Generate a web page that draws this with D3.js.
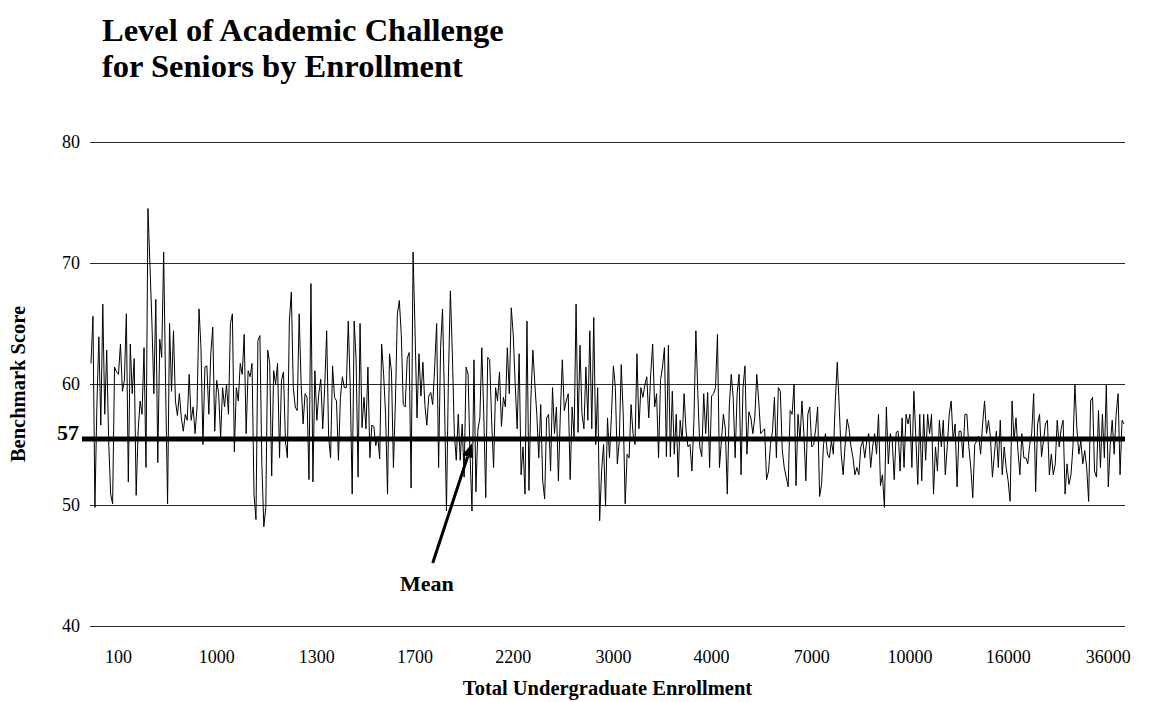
<!DOCTYPE html>
<meta charset="UTF-8">
<style>
	body { margin: 0; background: #fff; }
	svg { display: block; font-family: "Liberation Serif", "Times New Roman", serif; }
	.grid line { stroke: #2a2a2a; stroke-width: 1px; shape-rendering: crispEdges; }
	.tick-label { font-size: 18px; fill: #000; }
	.title { font-size: 32.5px; font-weight: bold; }
	.axis-title { font-size: 20.5px; font-weight: bold; }
	.score-line { fill: none; stroke: #000; stroke-width: 1px; stroke-linejoin: miter; }
	.mean-line { stroke: #000; stroke-width: 5px; }
</style>

<body>
	<script src="https://d3js.org/d3.v7.min.js"></script>
	<script>

		// benchmark score for each institution, ordered by total undergraduate enrollment
		const scores = [
			61.7, 65.6, 49.8, 58.3, 63.9, 56.6, 66.6, 57.5, 62.8, 55.3, 50.9, 50.1, 61.4, 61.0, 60.8, 63.3, 59.4, 60.3, 65.8, 51.9,
			63.3, 59.2, 62.1, 50.8, 56.1, 58.6, 57.5, 63.0, 53.1, 74.5, 69.9, 65.2, 59.2, 67.0, 53.5, 63.7, 62.2, 70.9, 59.7, 50.1,
			65.0, 59.4, 64.4, 58.6, 57.4, 59.2, 57.2, 56.1, 57.5, 57.0, 60.8, 57.0,
			58.1, 55.9, 58.1, 66.2, 63.0, 55.0, 61.4, 61.5, 57.5, 62.5, 64.7, 56.1, 60.3, 59.2, 55.6, 59.7, 58.1, 60.0, 57.5, 65.0,
			65.8, 54.4, 59.7, 58.6, 61.7, 60.8, 64.1, 55.9, 61.1, 60.6, 61.7, 50.9, 48.8, 63.6, 64.0, 53.4, 48.2, 49.8, 62.8, 61.7,
			52.4, 61.1, 60.0, 61.7, 53.9, 60.3, 61.0, 55.3, 53.9, 65.2, 67.6, 59.7, 58.1,
			57.8, 65.8, 60.0, 56.7, 59.2, 58.9, 52.1, 68.3, 51.9, 61.1, 57.0, 59.2, 60.4, 56.3, 59.7, 64.4, 55.6, 53.9, 61.5, 58.9,
			58.6, 53.7, 58.9, 60.6, 59.7, 59.7, 65.2, 59.7, 50.9, 65.2, 62.0, 52.3, 65.0, 56.4, 58.9, 56.3, 61.4, 53.9, 56.6, 56.5,
			54.9, 55.7, 53.8, 63.3, 60.8, 57.5, 50.9, 62.5, 61.0, 53.1, 58.5, 65.8, 66.9,
			64.1, 58.3, 58.1, 62.1, 62.6, 51.4, 70.9, 64.4, 57.2, 62.5, 59.0, 61.8, 58.3, 56.6, 59.0, 59.3, 58.3, 61.4, 65.0, 53.1,
			63.0, 66.2, 58.6, 49.5, 60.6, 67.7, 62.5, 55.9, 53.7, 57.5, 53.7, 56.7, 52.3, 61.4, 60.8, 54.2, 49.5, 62.0, 51.1, 56.2,
			57.2, 63.0, 57.5, 50.6, 62.2, 62.0, 57.0, 53.1, 59.7, 58.6, 61.0, 56.5, 58.9,
			58.1, 63.0, 59.2, 66.3, 64.1, 60.0, 56.3, 62.5, 52.5, 54.8, 50.9, 65.2, 51.2, 58.9, 62.8, 60.0, 57.5, 53.9, 58.3, 52.0,
			50.5, 57.2, 57.5, 52.8, 59.7, 55.9, 58.1, 52.0, 57.6, 62.0, 57.8, 58.6, 59.2, 52.1, 58.1, 55.6, 66.6, 56.0, 63.2, 57.5,
			56.3, 61.4, 57.0, 64.4, 56.3, 65.5, 55.0, 59.7, 48.7, 52.8, 55.0, 49.9, 57.2,
			53.9, 57.4, 61.5, 59.7, 53.4, 55.3, 61.6, 57.5, 50.1, 54.2, 53.9, 58.3, 55.9, 55.0, 62.5, 56.3, 59.7, 58.9, 59.9, 60.6,
			57.2, 60.8, 63.3, 58.1, 59.2, 53.9, 60.3, 61.4, 63.0, 54.0, 63.2, 54.0, 59.4, 54.2, 57.5, 52.3, 57.0, 55.3, 59.2, 56.1,
			54.8, 55.0, 52.8, 57.0, 64.4, 59.2, 54.8, 54.0, 59.2, 55.9, 59.3, 53.1, 59.0,
			59.2, 59.7, 64.1, 53.1, 55.3, 57.5, 56.3, 50.9, 58.1, 60.8, 58.9, 53.9, 59.2, 60.8, 52.5, 59.7, 61.5, 54.2, 57.7, 57.2,
			55.9, 57.2, 60.8, 58.6, 55.9, 56.1, 56.3, 52.1, 52.8, 55.0, 56.1, 58.9, 53.9, 59.7, 59.4, 54.5, 53.1, 52.3, 51.5, 57.8,
			57.5, 60.0, 51.6, 57.5, 55.3, 58.6, 55.9, 52.0, 57.5, 58.1, 54.8, 55.0, 56.3,
			58.1, 50.7, 51.7, 55.0, 55.9, 54.2, 53.9, 55.3, 54.2, 58.6, 61.8, 58.1, 54.2, 52.5, 55.0, 57.1, 56.3, 54.8, 53.9, 52.5,
			53.1, 52.5, 54.8, 55.3, 53.9, 55.3, 55.9, 53.1, 54.8, 55.9, 54.2, 57.5, 51.6, 52.5, 49.8, 58.1, 53.4, 55.9, 55.3, 52.1,
			56.0, 56.1, 52.8, 57.2, 53.1, 57.5, 56.7, 57.5, 53.1, 59.4, 55.6, 51.7, 57.5,
			52.0, 57.5, 53.7, 57.5, 55.9, 57.5, 50.9, 54.8, 52.8, 57.0, 54.8, 57.0, 52.5, 54.8, 57.5, 58.6, 55.3, 56.7, 51.5, 56.1,
			56.1, 53.9, 57.5, 57.5, 54.8, 53.1, 50.6, 55.0, 55.3, 55.7, 54.2, 56.7, 58.6, 55.9, 57.0, 55.6, 52.3, 54.2, 56.1, 53.1,
			57.0, 52.5, 54.8, 53.1, 52.0, 50.3, 58.6, 55.3, 57.2, 54.5, 52.5, 55.9, 53.9,
			53.9, 53.4, 55.0, 55.9, 59.2, 51.1, 56.7, 57.5, 54.0, 55.3, 56.7, 57.0, 52.5, 54.2, 52.5, 53.4, 57.0, 54.8, 56.3, 57.0,
			50.9, 53.4, 51.7, 52.5, 54.8, 60.0, 56.3, 54.2, 55.3, 53.4, 54.5, 53.1, 50.3, 58.6, 58.9, 52.8, 52.3, 57.8, 53.1, 57.5,
			53.9, 60.0, 51.5, 55.0, 57.0, 54.2, 57.5, 59.2, 52.5, 57.0, 56.7
		];

		// enrollment labels shown under the axis, and the institution they sit under
		const enrollmentLabels = ["100", "1000", "1300", "1700", "2200", "3000", "4000", "7000", "10000", "16000", "36000"];
		const labelIndex = [14, 64, 115, 165, 215, 266, 316, 367, 417, 467, 518];

		const yTicks = [40, 50, 60, 70, 80];

		const meanScore = 55.45;
		const meanLabel = "57";
		const arrowFrom = { index: 174, score: 45.2 };
		const arrowTo = { index: 194, score: 55.1 };
		const meanText = { index: 171, score: 42.9 };

		var margin = { top: 142, right: 37, bottom: 76, left: 90 },
			width = 1162 - margin.left - margin.right,
			height = 702 - margin.top - margin.bottom;

		var svg = d3.select("body").append("svg")
			.attr("width", 1162)
			.attr("height", 702);

		// title, two lines
		var title = svg.append("text")
			.attr("class", "title")
			.attr("x", 102)
			.attr("y", 41);
		title.append("tspan").attr("x", 102).text("Level of Academic Challenge");
		title.append("tspan").attr("x", 102).attr("dy", 36).text("for Seniors by Enrollment");

		var g = svg.append("g")
			.attr("transform", "translate(" + margin.left + "," + margin.top + ")");

		var x = d3.scaleLinear()
			.domain([0, scores.length - 1])
			.range([1, width - 1]);

		var y = d3.scaleLinear()
			.domain([40, 80])
			.range([height, 0]);

		// horizontal gridlines
		g.append("g")
			.attr("class", "grid")
			.selectAll("line")
			.data(yTicks)
			.join("line")
			.attr("x1", 0)
			.attr("x2", width)
			.attr("y1", d => Math.round(y(d)) + 0.5)
			.attr("y2", d => Math.round(y(d)) + 0.5);

		g.append("g")
			.selectAll("text")
			.data(yTicks)
			.join("text")
			.attr("class", "tick-label")
			.attr("text-anchor", "end")
			.attr("x", -10)
			.attr("y", d => y(d))
			.attr("dy", "0.35em")
			.text(d => d);

		g.append("g")
			.selectAll("text")
			.data(enrollmentLabels)
			.join("text")
			.attr("class", "tick-label")
			.attr("text-anchor", "middle")
			.attr("x", (d, i) => x(labelIndex[i]))
			.attr("y", height + 37)
			.text(d => d);

		// the scores
		var line = d3.line()
			.x((d, i) => x(i))
			.y(d => y(d));

		g.append("path")
			.datum(scores)
			.attr("class", "score-line")
			.attr("d", line);

		// mean line and its label
		g.append("line")
			.attr("class", "mean-line")
			.attr("x1", -8)
			.attr("x2", width)
			.attr("y1", y(meanScore))
			.attr("y2", y(meanScore));

		g.append("text")
			.attr("text-anchor", "end")
			.attr("x", -11)
			.attr("y", y(meanScore) + 1)
			.style("font-size", "22px")
			.style("font-weight", "bold")
			.text(meanLabel);

		// arrow pointing at the mean
		var ax0 = x(arrowFrom.index), ay0 = y(arrowFrom.score),
			ax1 = x(arrowTo.index), ay1 = y(arrowTo.score);
		var ang = Math.atan2(ay1 - ay0, ax1 - ax0),
			headLen = 14, headW = 5.5;
		var bx = ax1 - headLen * Math.cos(ang), by = ay1 - headLen * Math.sin(ang);

		g.append("line")
			.attr("x1", ax0)
			.attr("y1", ay0)
			.attr("x2", bx)
			.attr("y2", by)
			.attr("stroke", "#000")
			.attr("stroke-width", 3);

		g.append("path")
			.attr("d", "M" + ax1 + "," + ay1
				+ "L" + (bx + headW * Math.sin(ang)) + "," + (by - headW * Math.cos(ang))
				+ "L" + (bx - headW * Math.sin(ang)) + "," + (by + headW * Math.cos(ang)) + "Z")
			.attr("fill", "#000");

		g.append("text")
			.attr("text-anchor", "middle")
			.attr("x", x(meanText.index))
			.attr("y", y(meanText.score))
			.style("font-size", "22px")
			.style("font-weight", "bold")
			.text("Mean");

		// axis titles
		svg.append("text")
			.attr("class", "axis-title")
			.attr("text-anchor", "middle")
			.attr("x", margin.left + width / 2)
			.attr("y", 695)
			.text("Total Undergraduate Enrollment");

		svg.append("text")
			.attr("class", "axis-title")
			.attr("text-anchor", "middle")
			.attr("transform", "translate(25," + (margin.top + y(60)) + ") rotate(-90)")
			.text("Benchmark Score");

	</script>
</body>
